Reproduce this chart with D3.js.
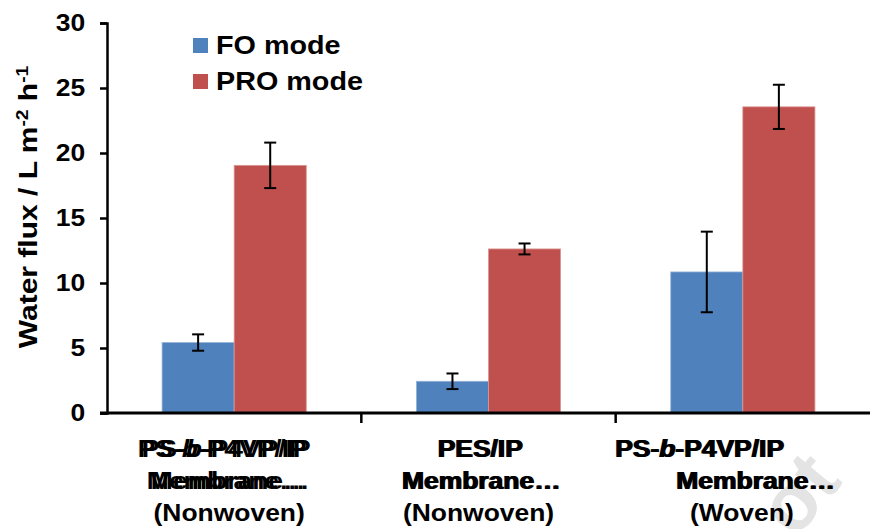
<!DOCTYPE html>
<html>
<head>
<meta charset="utf-8">
<script src="https://cdn.jsdelivr.net/npm/d3@7"></script>
<style>
  body { margin: 0; background: #fff; }
  text { font-family: Arial, "Liberation Sans", sans-serif; font-weight: bold; }
</style>
</head>
<body>
<script>
var width = 870;
var height = 529;

var groups = ["PS-b-P4VP/IP (Nonwoven)", "PES/IP (Nonwoven)", "PS-b-P4VP/IP (Woven)"];
var series = ["FO mode", "PRO mode"];
var colors = ["#4F81BD", "#C0504D"];
var foValues = [5.42, 2.44, 10.85];
var foErrors = [0.63, 0.6, 3.1];
var proValues = [19.05, 12.62, 23.55];
var proErrors = [1.75, 0.42, 1.7];
var yTicks = [0, 5, 10, 15, 20, 25, 30];

var margin = {left: 107, right: 0, top: 23, bottom: 116};
var stretch = 1.15;   // the picture's text is a bit wider than plain Arial

var svg = d3.select("body").append("svg")
    .attr("width", width)
    .attr("height", height);

var x0 = d3.scaleBand()
  .domain(groups)
  .range([margin.left, width - margin.right]);

var x1 = d3.scaleBand()
  .domain(series)
  .range([0, x0.bandwidth()])
  .paddingOuter(0.764);

var y = d3.scaleLinear()
  .domain([0, 30])
  .range([height - margin.bottom, margin.top]);

// bars
var rows = groups.map(function(g, i) {
  return {group: g, vals: [
    {s: series[0], v: foValues[i], e: foErrors[i]},
    {s: series[1], v: proValues[i], e: proErrors[i]}
  ]};
});

var gs = svg.selectAll("g.grp")
  .data(rows)
.enter().append("g")
  .attr("class", "grp")
  .attr("transform", function(d) { return "translate(" + x0(d.group) + ",0)"; });

gs.selectAll("rect")
  .data(function(d) { return d.vals; })
.enter().append("rect")
  .attr("x", function(d) { return x1(d.s); })
  .attr("y", function(d) { return y(d.v); })
  .attr("width", x1.bandwidth())
  .attr("height", function(d) { return y(0) - y(d.v); })
  .attr("fill", function(d, i) { return colors[i]; })
  .attr("stroke", function(d, i) { return i == 0 ? "#95B3D7" : "#D99694"; })
  .attr("stroke-width", 0.8);

// error bars
var err = gs.selectAll("g.err")
  .data(function(d) { return d.vals; })
.enter().append("g")
  .attr("class", "err")
  .attr("stroke", "#000")
  .attr("stroke-width", 2);

err.append("line")
  .attr("x1", function(d) { return x1(d.s) + x1.bandwidth() / 2; })
  .attr("x2", function(d) { return x1(d.s) + x1.bandwidth() / 2; })
  .attr("y1", function(d) { return y(d.v + d.e); })
  .attr("y2", function(d) { return y(d.v - d.e); });
[1, -1].forEach(function(sg) {
  err.append("line")
    .attr("x1", function(d) { return x1(d.s) + x1.bandwidth() / 2 - 6; })
    .attr("x2", function(d) { return x1(d.s) + x1.bandwidth() / 2 + 6; })
    .attr("y1", function(d) { return y(d.v + sg * d.e); })
    .attr("y2", function(d) { return y(d.v + sg * d.e); });
});

// y axis
var yAxis = svg.append("g")
  .attr("transform", "translate(" + margin.left + ",0)")
  .call(d3.axisLeft(y).tickValues(yTicks).tickSize(7));
yAxis.select(".domain").attr("stroke-width", 2.5);
yAxis.selectAll(".tick line").attr("stroke-width", 2.5);
yAxis.selectAll(".tick text")
  .attr("x", -19)
  .attr("transform", "scale(" + stretch + ",1)")
  .style("font-size", "23px")
  .style("font-weight", "bold")
  .style("font-family", "Arial, 'Liberation Sans', sans-serif")
  .attr("fill", "#000");

// x axis
var xAxis = svg.append("g")
  .attr("transform", "translate(0," + y(0) + ")");
xAxis.append("line")
  .attr("x1", margin.left - 7).attr("x2", width)
  .attr("stroke", "#000").attr("stroke-width", 3);
xAxis.selectAll("line.tk")
  .data(groups.slice(1))
.enter().append("line")
  .attr("class", "tk")
  .attr("x1", function(d) { return x0(d); })
  .attr("x2", function(d) { return x0(d); })
  .attr("y1", 0).attr("y2", 10)
  .attr("stroke", "#000").attr("stroke-width", 2.5);

// category labels (Excel drew the first lines twice, slightly offset)
var labelLines = [
  ["PS-|b|-P4VP/IP", "Membrane…", "(Nonwoven)"],
  ["PES/IP", "Membrane…", "(Nonwoven)"],
  ["PS-|b|-P4VP/IP", "Membrane…", "(Woven)"]
];
var labelShift = [[-12, -8, -5], [-9, -8, -10], [-44, 12, -1]];
var ghost = [4, 1.5, 1.5];
var lineY = [457, 489, 521];

labelLines.forEach(function(lines, gi) {
  var cx = x0(groups[gi]) + x0.bandwidth() / 2;
  lines.forEach(function(ln, li) {
    var copies = li < 2 ? [ghost[gi], 0] : [0];
    copies.forEach(function(off) {
      var t = svg.append("text")
        .attr("transform", "translate(" + (cx + labelShift[gi][li] + off) + "," + lineY[li] + ") scale(" + stretch + ",1)")
        .attr("text-anchor", "middle")
        .style("font-size", "23px")
        .attr("fill", "#000");
      ln.split("|").forEach(function(part, pi) {
        t.append("tspan")
          .style("font-style", pi == 1 ? "italic" : "normal")
          .text(part);
      });
    });
  });
});

// y title
var yt = svg.append("text")
  .attr("transform", "translate(37,207) rotate(-90) scale(1.2,1)")
  .attr("text-anchor", "middle")
  .style("font-size", "25px")
  .attr("fill", "#000");
yt.append("tspan").text("Water flux / L m");
yt.append("tspan").attr("dy", -9).style("font-size", "16px").text("-2");
yt.append("tspan").attr("dy", 9).text(" h");
yt.append("tspan").attr("dy", -9).style("font-size", "16px").text("-1");

// legend
var leg = svg.selectAll("g.leg")
  .data(series)
.enter().append("g")
  .attr("class", "leg")
  .attr("transform", function(d, i) { return "translate(193," + (38 + i * 36) + ")"; });
leg.append("rect")
  .attr("width", 15).attr("height", 15)
  .attr("fill", function(d, i) { return colors[i]; });
leg.append("text")
  .attr("transform", "translate(23,16) scale(" + stretch + ",1)")
  .style("font-size", "25px")
  .attr("fill", "#000")
  .text(function(d) { return d; });

// faint watermark fragment in the corner
svg.append("text")
  .attr("transform", "translate(795,540) rotate(-50)")
  .style("font-size", "80px")
  .attr("fill", "#000")
  .attr("opacity", 0.1)
  .text("ot");
</script>
</body>
</html>
